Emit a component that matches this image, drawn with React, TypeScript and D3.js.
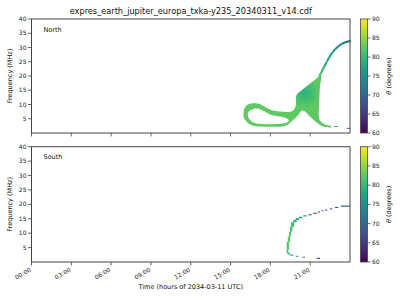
import React from 'react';
import * as d3 from 'd3';

const TITLE = 'expres_earth_jupiter_europa_txka-y235_20340311_v14.cdf';
const X_LABEL = 'Time (hours of 2034-03-11 UTC)';
const Y_LABEL = 'Frequency (MHz)';
const xTickHours = [0, 3, 6, 9, 12, 15, 18, 21];
const xTickLabels = ['00:00', '03:00', '06:00', '09:00', '12:00', '15:00', '18:00', '21:00'];
const yTicks = [5, 10, 15, 20, 25, 30, 35, 40];
const cbTicks = [60, 65, 70, 75, 80, 85, 90];
const panelNames = ['North', 'South'];

// North: outer boundary of the emission region (time in hours, frequency in MHz)
const northOuterT = [15.97, 16.05, 16.24, 16.54, 16.92, 17.29, 17.67, 18.05, 18.5, 18.95, 19.4, 19.71, 19.89, 19.93, 19.97, 20.23, 20.61, 20.99, 21.29, 21.55, 21.78, 21.83, 21.74, 21.69, 21.65, 21.7, 21.96, 22.34, 22.57, 22.57, 22.19, 21.74, 21.44, 21.14, 20.84, 20.61, 20.42, 20.27, 20.16, 19.93, 19.63, 19.33, 19.03, 18.57, 17.97, 17.37, 16.84, 16.46, 16.2, 16.01];
const northOuterF = [6.67, 8.6, 9.82, 10.35, 10.42, 10.0, 8.95, 8.07, 7.61, 7.44, 7.37, 7.89, 9.12, 11.58, 13.33, 14.56, 15.96, 17.37, 18.42, 19.47, 20.18, 19.3, 16.49, 11.58, 7.02, 4.74, 3.4, 2.7, 2.53, 2.0, 2.11, 2.81, 3.86, 5.09, 6.49, 7.54, 7.89, 7.54, 6.67, 5.44, 4.21, 2.98, 2.35, 2.18, 2.18, 2.25, 2.46, 2.98, 4.04, 5.26];
// North: hole inside the loop
const northHoleT = [16.31, 16.54, 16.84, 17.14, 17.52, 17.97, 18.5, 18.95, 19.25, 19.4, 19.25, 18.8, 18.12, 17.37, 16.84, 16.54, 16.35];
const northHoleF = [7.02, 8.07, 8.6, 8.49, 7.72, 6.49, 5.96, 5.61, 5.09, 4.39, 3.68, 3.23, 3.09, 3.16, 3.51, 4.21, 5.44];
const northFillTheta = 82.5;
const northCoreTheta = 79;
// North: thin high-frequency arc
const northArcT = [21.7, 21.89, 22.12, 22.34, 22.57, 22.79, 23.02, 23.25, 23.47, 23.7, 24.0];
const northArcF = [20.0, 21.75, 23.86, 25.79, 27.54, 28.95, 30.0, 30.88, 31.51, 31.93, 32.28];
const northArcTheta = [81, 80, 79, 78, 77, 76, 75, 74, 73, 72, 71];
// North: isolated low-frequency cells
const northCellT0 = [22.8, 23.75];
const northCellT1 = [23.1, 24.0];
const northCellF0 = [2.15, 1.5];
const northCellF1 = [2.45, 1.8];
const northCellTheta = [75, 65];

// South: cells
const southT0 = [23.32, 22.87, 22.49, 22.12, 21.87, 21.57, 21.23, 20.86, 20.48, 20.16, 19.91, 19.73, 19.55, 19.48, 19.4, 19.31, 19.23, 19.23, 19.31, 19.48, 19.91, 20.41, 21.49];
const southT1 = [24.0, 23.12, 22.67, 22.29, 21.99, 21.74, 21.49, 21.11, 20.74, 20.41, 20.16, 19.98, 19.8, 19.65, 19.55, 19.48, 19.4, 19.35, 19.48, 19.73, 20.1, 20.61, 21.74];
const southF0 = [19.15, 18.75, 18.25, 17.85, 17.6, 17.15, 16.7, 16.2, 15.8, 15.2, 14.6, 13.8, 12.2, 10.5, 8.8, 7.0, 4.2, 3.0, 2.7, 2.2, 1.8, 1.5, 1.1];
const southF1 = [19.6, 19.1, 18.6, 18.2, 17.95, 17.5, 17.1, 16.6, 16.2, 15.7, 15.2, 14.6, 13.8, 12.2, 10.5, 8.8, 7.0, 4.2, 3.2, 2.6, 2.15, 1.8, 1.45];
const southTheta = [72, 67, 66, 66, 66, 67, 68, 71, 74, 75, 77, 79, 81, 81, 82, 82, 82, 81, 78, 76, 75, 68, 63];

const W = 400;
const H = 300;
const PL = 31.5;
const PR = 350;
const panelBox = [
  { top: 19, bottom: 133 },
  { top: 146.7, bottom: 262 },
];
const CB_X = 360.5;
const CB_W = 7;
const FONT = 'DejaVu Sans, sans-serif';

const color = (th: number) => d3.interpolateViridis((th - 60) / 30);

export default function App() {
  const x = d3.scaleLinear().domain([0, 24]).range([PL, PR]);
  const ys = panelBox.map((p) => d3.scaleLinear().domain([0, 40]).range([p.bottom, p.top]));
  const cb = panelBox.map((p) => d3.scaleLinear().domain([60, 90]).range([p.bottom, p.top]));

  const yN = ys[0];
  const ringPath = (ts: number[], fs: number[]) =>
    d3
      .line<number>()
      .x((i) => x(ts[i]))
      .y((i) => yN(fs[i]))
      .curve(d3.curveCatmullRomClosed.alpha(0.5))(d3.range(ts.length)) || '';
  const northPath = ringPath(northOuterT, northOuterF) + ringPath(northHoleT, northHoleF);

  const gradStops = d3.range(0, 1.0001, 0.1);

  return (
    <svg
      width={W}
      height={H}
      style={{ position: 'absolute', left: 0, top: 0, background: '#fff' }}
      fontFamily={FONT}
    >
      <defs>
        <linearGradient id="viridis" x1="0" y1="1" x2="0" y2="0">
          {gradStops.map((s) => (
            <stop key={s} offset={s} stopColor={d3.interpolateViridis(s)} />
          ))}
        </linearGradient>
        <radialGradient
          id="core"
          gradientUnits="userSpaceOnUse"
          cx={x(20.6)}
          cy={yN(14)}
          r={15}
        >
          <stop offset="0" stopColor={color(northCoreTheta)} />
          <stop offset="1" stopColor={color(northFillTheta)} />
        </radialGradient>
      </defs>

      <text x={(PL + PR) / 2} y={14} textAnchor="middle" fontSize={8.2} fill="#111">
        {TITLE}
      </text>

      {panelBox.map((p, pi) => {
        const y = ys[pi];
        const cby = cb[pi];
        return (
          <g key={pi}>
            {pi === 0 ? (
              <g>
                <path d={northPath} fill="url(#core)" fillRule="evenodd" />
                {northArcT.slice(0, -1).map((t, i) => (
                  <line
                    key={i}
                    x1={x(t)}
                    y1={y(northArcF[i])}
                    x2={x(northArcT[i + 1])}
                    y2={y(northArcF[i + 1])}
                    stroke={color(northArcTheta[i])}
                    strokeWidth={2}
                    strokeLinecap="round"
                  />
                ))}
                {northCellT0.map((t, i) => (
                  <rect
                    key={i}
                    x={x(t)}
                    y={y(northCellF1[i])}
                    width={x(northCellT1[i]) - x(t)}
                    height={y(northCellF0[i]) - y(northCellF1[i])}
                    fill={color(northCellTheta[i])}
                  />
                ))}
              </g>
            ) : (
              <g>
                {southT0.map((t, i) => (
                  <rect
                    key={i}
                    x={x(t)}
                    y={y(southF1[i])}
                    width={x(southT1[i]) - x(t)}
                    height={y(southF0[i]) - y(southF1[i])}
                    fill={color(southTheta[i])}
                  />
                ))}
              </g>
            )}

            <rect
              x={PL}
              y={p.top}
              width={PR - PL}
              height={p.bottom - p.top}
              fill="none"
              stroke="#444"
              strokeWidth={1}
            />
            <text x={PL + 12} y={p.top + 12.5} fontSize={6.5} fill="#111">
              {panelNames[pi]}
            </text>

            {yTicks.map((v) => (
              <g key={v}>
                <line x1={PL - 3.5} x2={PL} y1={y(v)} y2={y(v)} stroke="#444" strokeWidth={0.8} />
                <text x={PL - 5} y={y(v)} dy="0.35em" textAnchor="end" fontSize={6} fill="#222">
                  {v}
                </text>
              </g>
            ))}
            {xTickHours.map((h, i) => (
              <g key={h}>
                <line x1={x(h)} x2={x(h)} y1={p.bottom} y2={p.bottom + 3.5} stroke="#444" strokeWidth={0.8} />
                {pi === 1 ? (
                  <text
                    x={x(h)}
                    y={p.bottom + 9}
                    textAnchor="end"
                    fontSize={6}
                    fill="#222"
                    transform={`rotate(-30, ${x(h)}, ${p.bottom + 9})`}
                  >
                    {xTickLabels[i]}
                  </text>
                ) : null}
              </g>
            ))}
            <text
              x={10}
              y={(p.top + p.bottom) / 2}
              textAnchor="middle"
              fontSize={6.5}
              fill="#111"
              dy="0.35em"
              transform={`rotate(-90, 10, ${(p.top + p.bottom) / 2})`}
            >
              {Y_LABEL}
            </text>

            <rect x={CB_X} y={p.top} width={CB_W} height={p.bottom - p.top} fill="url(#viridis)" />
            <rect
              x={CB_X}
              y={p.top}
              width={CB_W}
              height={p.bottom - p.top}
              fill="none"
              stroke="#444"
              strokeWidth={0.8}
            />
            {cbTicks.map((v) => (
              <g key={v}>
                <line x1={CB_X + CB_W} x2={CB_X + CB_W + 3} y1={cby(v)} y2={cby(v)} stroke="#444" strokeWidth={0.8} />
                <text x={CB_X + CB_W + 4.5} y={cby(v)} dy="0.35em" fontSize={6} fill="#222">
                  {v}
                </text>
              </g>
            ))}
            <text
              x={389}
              y={(p.top + p.bottom) / 2}
              textAnchor="middle"
              dy="0.35em"
              fontSize={6.5}
              fill="#111"
              transform={`rotate(-90, 389, ${(p.top + p.bottom) / 2})`}
            >
              <tspan fontStyle="italic">θ</tspan> (degrees)
            </text>
          </g>
        );
      })}

      <text x={(PL + PR) / 2} y={289} textAnchor="middle" fontSize={6.5} fill="#111">
        {X_LABEL}
      </text>
    </svg>
  );
}
